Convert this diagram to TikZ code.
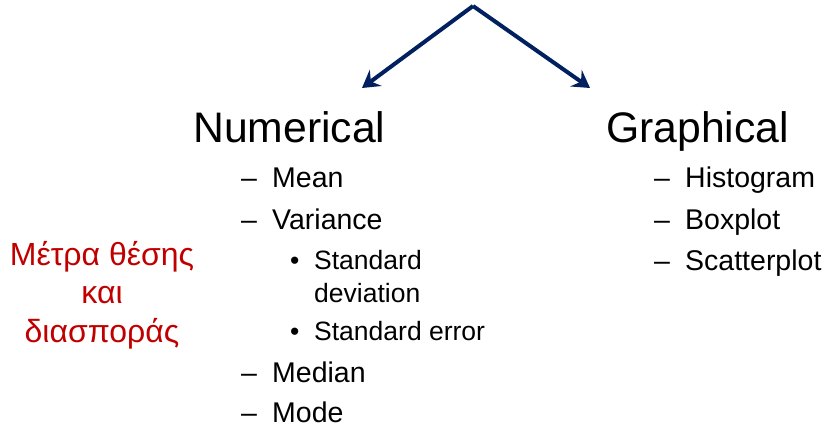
\documentclass[tikz,border=0pt]{standalone}
\usepackage{fontspec}
\setmainfont{Liberation Sans}
\usetikzlibrary{arrows.meta}
\definecolor{navy}{HTML}{002060}
\definecolor{darkred}{HTML}{C00000}

\begin{document}
\begin{tikzpicture}[x=1pt, y=-1pt,
  head/.style={anchor=base west, inner sep=0pt, font=\fontsize{42.7}{50}\selectfont},
  item/.style={anchor=base west, inner sep=0pt, font=\fontsize{28.5}{34}\selectfont},
  subitem/.style={anchor=base west, inner sep=0pt, font=\fontsize{26.5}{32}\selectfont},
  link/.style={navy, line width=4pt, miter limit=10,
    -{Stealth[length=17pt, width=20pt, inset=6pt]}}]
  \useasboundingbox (0,0) rectangle (829,427);

  % the split at the top
  \coordinate (top) at (473,6);
  \coordinate (numtip) at (362,88);
  \coordinate (graphtip) at (590,88);
  \draw[link] (top) -- (numtip);
  \draw[link] (top) -- (graphtip);

  % headings
  \node[head] (numerical) at (193,143) {Numerical};
  \node[head] (graphical) at (606,143) {Graphical};

  % numerical measures
  \foreach \name/\label/\y in {mean/Mean/188, variance/Variance/230,
                               median/Median/382, mode/Mode/422} {
    \node[item] (\name-dash) at (241,\y) {–};
    \node[item] (\name) at (272,\y) {\label};
  }
  \node[subitem] (sd-dot) at (290,270) {•};
  \node[subitem] (sd) at (314,270) {Standard};
  \node[subitem] (sd2) at (314,302) {deviation};
  \node[subitem] (se-dot) at (290,340) {•};
  \node[subitem] (se) at (314,340) {Standard error};

  % graphical summaries
  \foreach \name/\label/\y in {hist/Histogram/188, box/Boxplot/230,
                               scatter/Scatterplot/271} {
    \node[item] (\name-dash) at (654,\y) {–};
    \node[item] (\name) at (685,\y) {\label};
  }

  % side note
  \node[darkred, align=center, inner sep=0pt,
        font=\fontsize{32}{38.5}\selectfont] (note) at (102,295)
    {Μέτρα θέσης\\και\\διασποράς};
\end{tikzpicture}
\end{document}
